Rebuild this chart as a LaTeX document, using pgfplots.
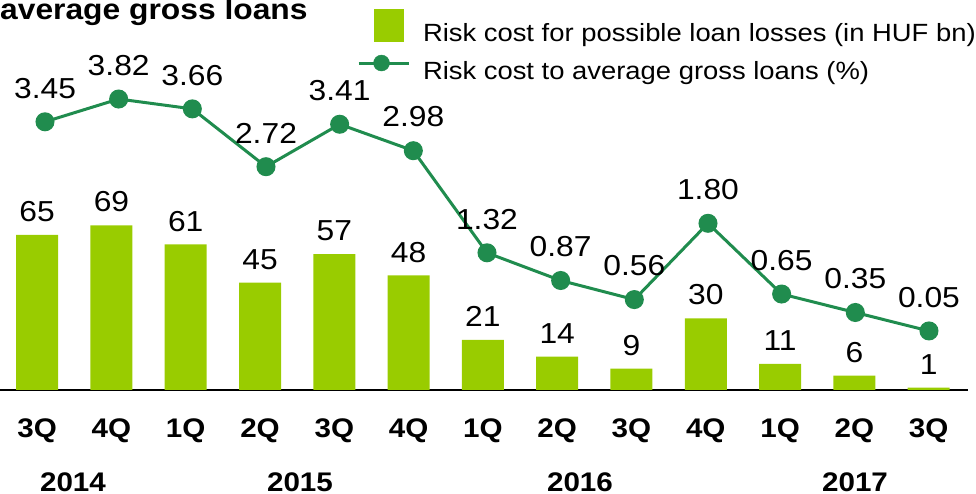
\documentclass[border=0pt]{standalone}
\usepackage{fontspec}
\setmainfont{Liberation Sans}[FakeStretch=1.1]
\usepackage{pgfplots}
\pgfplotsset{compat=1.18}
\definecolor{barg}{RGB}{153,204,0}
\definecolor{lineg}{RGB}{32,140,78}
\begin{document}
\begin{tikzpicture}[x=1bp,y=1bp]
\path[use as bounding box] (0,-104) rectangle (976,390);
\begin{axis}[at={(0,0)}, anchor=south west, scale only axis, width=968bp, height=390bp,
  xmin=-0.5, xmax=12.53, ymin=0, ymax=163.5, clip=false,
  axis x line=bottom, axis y line=none,
  axis line style={black, line width=1.5bp, -},
  xtick={0,...,12}, xticklabels={3Q,4Q,1Q,2Q,3Q,4Q,1Q,2Q,3Q,4Q,1Q,2Q,3Q},
  x tick label style={font=\bfseries\fontsize{27}{27}\selectfont, inner sep=0pt, anchor=north, yshift=-29bp},
  major tick length=0pt,
  /pgf/number format/assume math mode=true,
  legend style={at={(0.3688,0.978)}, anchor=north west, draw=none, fill=none, inner sep=0pt, outer sep=0pt,
    font=\fontsize{25}{25}\selectfont, row sep=11.5bp,
    nodes={inner sep=0pt}, column sep=13bp},
  legend cell align=left,
]
\addplot[ybar, bar width=42bp, fill=barg, draw=none,
  nodes near coords,
  nodes near coords style={font=\fontsize{29}{29}\selectfont, anchor=south, inner sep=0pt, yshift=13bp, text=black},
  legend image code/.code={\fill[barg] (15bp,-8bp) rectangle (45bp,25bp);}]
 coordinates {(0,65) (1,69) (2,61) (3,45) (4,57) (5,48) (6,21) (7,14) (8,9) (9,30) (10,11) (11,6) (12,1)};
\addlegendentry{Risk cost for possible loan losses (in HUF bn)}
\addlegendimage{legend image code/.code={\draw[lineg, line width=3bp] (0bp,8.5bp) -- (50bp,8.5bp); \fill[lineg] (23bp,8.5bp) circle (8bp);}}
\addlegendentry{Risk cost to average gross loans (\%)}
\end{axis}
\begin{axis}[at={(0,0)}, anchor=south west, scale only axis, width=968bp, height=390bp,
  xmin=-0.611, xmax=12.53, ymin=-0.91, ymax=5.43, clip=false, hide axis,
  /pgf/number format/assume math mode=true,
  /pgf/number format/.cd, fixed, zerofill, precision=2, /pgfplots/.cd,
]
\addplot[lineg, line width=3bp, mark=*, mark size=8bp, mark options={fill=lineg, draw=none},
  nodes near coords,
  nodes near coords style={font=\fontsize{29}{29}\selectfont, anchor=south, inner sep=0pt, yshift=22bp, text=black}]
 coordinates {(0,3.45) (1,3.82) (2,3.66) (3,2.72) (4,3.41) (5,2.98) (6,1.32) (7,0.87) (8,0.56) (9,1.80) (10,0.65) (11,0.35) (12,0.05)};
\end{axis}
\node[anchor=base west, inner sep=0pt, font=\bfseries\fontsize{29}{29}\selectfont] at (0,370.5) {average gross loans};
\foreach \x/\t in {73/2014, 300/2015, 580/2016, 855/2017}
  \node[inner sep=0pt, font=\bfseries\fontsize{27}{27}\selectfont] at (\x,-92) {\t};
\end{tikzpicture}
\end{document}
